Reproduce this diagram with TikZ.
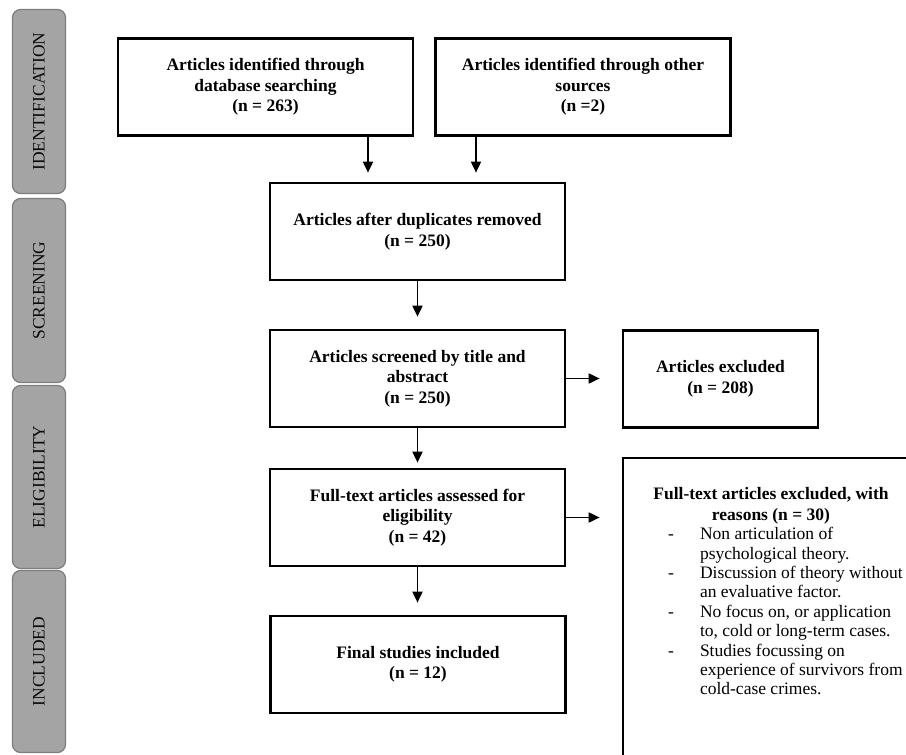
\documentclass[tikz,border=0pt]{standalone}
\usepackage{fontspec}
\setmainfont{Liberation Serif}
\usetikzlibrary{arrows.meta}
\definecolor{phasefill}{RGB}{164,164,164}
\definecolor{phaseborder}{RGB}{125,125,125}
\definecolor{phasetext}{RGB}{10,10,10}
\begin{document}
\begin{tikzpicture}[x=1pt,y=-1pt,
  flow/.style={draw=black, line width=2.7pt, inner sep=0pt, align=center,
    minimum width=295pt, minimum height=97pt,
    font=\fontsize{17.5}{20.5}\selectfont\bfseries},
  phase/.style={draw=phaseborder, fill=phasefill, line width=1.2pt,
    rounded corners=8pt, minimum height=53pt, inner sep=0pt, rotate=90,
    text=phasetext, font=\fontsize{17.5}{20}\selectfont},
  arr/.style={line width=1.8pt, -{Triangle[length=11pt,width=10pt]}}]
\useasboundingbox (0,0) rectangle (906,755);
\clip (0,0) rectangle (906,755);
% phase bars
\node[phase, minimum width=184pt] (p1) at (39,101.5) {IDENTIFICATION};
\node[phase, minimum width=184pt] (p2) at (39,290.5) {SCREENING};
\node[phase, minimum width=183pt] (p3) at (39,477) {ELIGIBILITY};
\node[phase, minimum width=182pt] (p4) at (39,661.5) {INCLUDED};
% flow boxes
\node[flow] (b1) at (265.5,87) {Articles identified through\\database searching\\(n = 263)};
\node[flow] (b2) at (583,87) {Articles identified through other\\sources\\(n =2)};
\node[flow] (b3) at (417.5,231.5) {Articles after duplicates removed\\(n = 250)};
\node[flow] (b4) at (417.5,378.5) {Articles screened by title and\\abstract\\(n = 250)};
\node[flow] (b5) at (417.5,517.5) {Full-text articles assessed for\\eligibility\\(n = 42)};
\node[flow] (b6) at (418,664.5) {Final studies included\\(n = 12)};
\node[flow, minimum width=195pt] (ex1) at (720.5,379) {Articles excluded\\(n = 208)};
\node[flow, minimum width=377pt, minimum height=442pt] (ex2) at (811.5,679) {};
\node[align=center, inner sep=0pt, font=\fontsize{17.5}{20.5}\selectfont\bfseries] (h) at (771,506) {Full-text articles excluded, with\\reasons (n = 30)};
\node[anchor=north west, inner sep=0pt] (l) at (663,526) {\fontsize{17.5}{19.4}\selectfont
  \begin{tabular}{@{\hspace{5pt}}l@{\hspace{26pt}}l@{}}
  - & Non articulation of\\
    & psychological theory.\\
  - & Discussion of theory without\\
    & an evaluative factor.\\
  - & No focus on, or application\\
    & to, cold or long-term cases.\\
  - & Studies focussing on\\
    & experience of survivors from\\
    & cold-case crimes.
  \end{tabular}};
% connectors
\coordinate (c1) at (368,0);
\coordinate (c2) at (476,0);
\draw[arr, shorten >=9pt] (b1.south -| c1) -- (b3.north -| c1);
\draw[arr, shorten >=9pt] (b2.south -| c2) -- (b3.north -| c2);
\draw[arr, shorten >=12pt] (b3.south) -- (b4.north);
\draw[arr, shorten >=5pt] (b4.south) -- (b5.north);
\draw[arr, shorten >=12pt] (b5.south) -- (b5.south |- b6.north);
\draw[arr, shorten >=22pt] (b4.east) -- (b4.east -| ex1.west);
\draw[arr, shorten >=22pt] (b5.east) -- (b5.east -| ex2.west);
\end{tikzpicture}
\end{document}
